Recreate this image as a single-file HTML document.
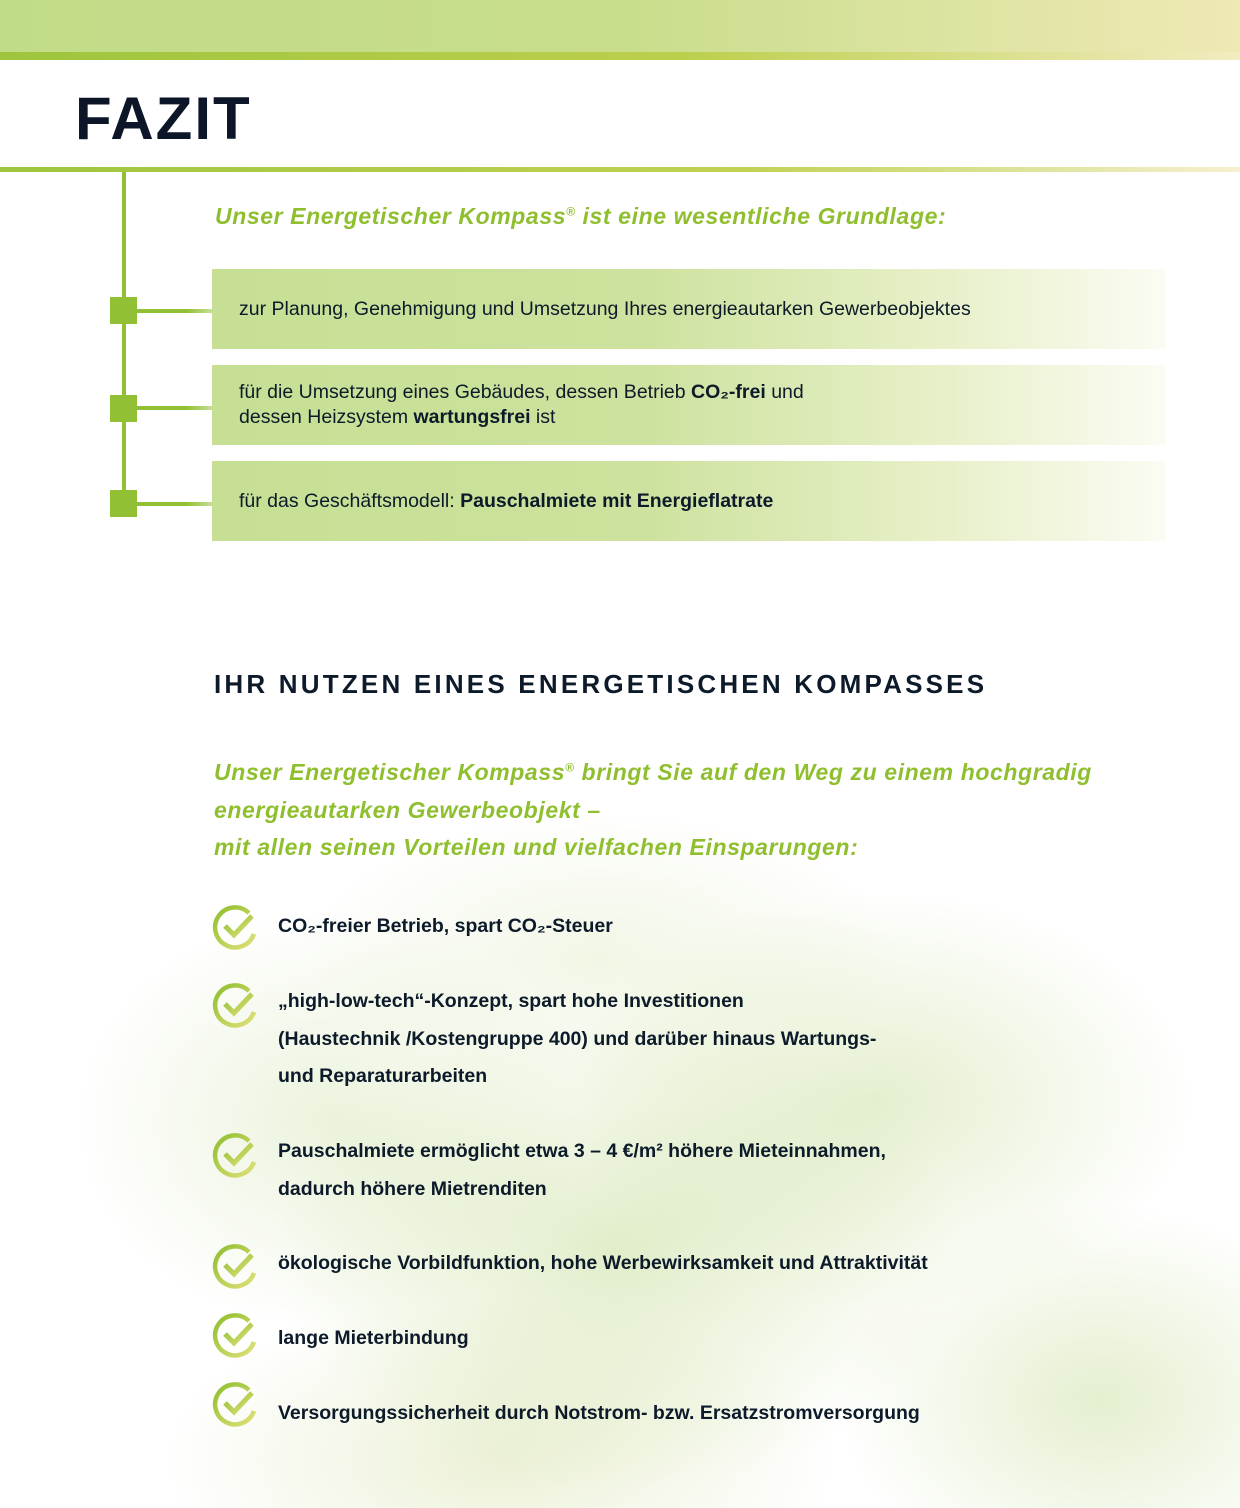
<!DOCTYPE html>
<html><head><meta charset="utf-8"><style>
*{margin:0;padding:0;box-sizing:border-box}
body{width:1240px;height:1508px;position:relative;overflow:hidden;background:#fff;font-family:"Liberation Sans",sans-serif;color:#0c1a2a}
.abs{position:absolute}
.box{position:absolute;left:212px;width:954px;height:80px;background:linear-gradient(90deg,#c6df94 0%,#cde29e 45%,#e6efc6 75%,#fbfcf3 100%);font-size:19.5px;padding-left:27px;display:flex;flex-direction:column;justify-content:center;line-height:25px}
.sq{position:absolute;left:110px;width:27px;height:27px;background:#92c035}
.con{position:absolute;left:126px;width:86px;height:4px;background:linear-gradient(90deg,#92c035 70%,#c6df94)}
.gi{color:#8fbf2f;font-style:italic;font-weight:bold;font-size:23px;letter-spacing:0.6px}
.it{position:absolute;left:278px;font-weight:bold;font-size:19.5px;line-height:37.5px}
.ck{position:absolute;left:211px;width:48px;height:48px}
</style></head><body>
<div class="abs" style="left:0;top:0;width:1240px;height:1508px;background:
radial-gradient(ellipse 460px 320px at 620px 1250px,rgba(180,210,120,.4),rgba(180,210,120,0) 75%),
radial-gradient(ellipse 420px 280px at 880px 1100px,rgba(180,210,120,.35),rgba(180,210,120,0) 75%),
radial-gradient(ellipse 340px 280px at 330px 1120px,rgba(190,215,140,.3),rgba(190,215,140,0) 75%),
radial-gradient(ellipse 350px 260px at 1100px 1400px,rgba(180,210,120,.35),rgba(180,210,120,0) 75%),
radial-gradient(ellipse 450px 220px at 500px 1460px,rgba(200,215,140,.35),rgba(200,215,140,0) 75%),
radial-gradient(ellipse 400px 200px at 600px 960px,rgba(200,220,150,.25),rgba(200,220,150,0) 75%)"></div>
<div class="abs" style="left:0;top:0;width:1240px;height:52px;background:linear-gradient(90deg,#c1dc88,#c8dd8c 50%,#efe9b4)"></div>
<div class="abs" style="left:0;top:52px;width:1240px;height:8px;background:linear-gradient(90deg,#9ec53d,#bccf4c 55%,#f2ecc0)"></div>
<div class="abs" style="left:75px;top:84px;font-size:60px;font-weight:bold;letter-spacing:2px;color:#0c1628">FAZIT</div>
<div class="abs" style="left:0;top:167px;width:1240px;height:5px;background:linear-gradient(90deg,#9ec53d,#c1d154 60%,#f5f0d0)"></div>
<div class="abs" style="left:122px;top:172px;width:4px;height:333px;background:#92c035"></div>
<div class="abs gi" style="left:215px;top:203px">Unser Energetischer Kompass<sup style="font-size:12px">®</sup> ist eine wesentliche Grundlage:</div>
<div class="box" style="top:269px">zur Planung, Genehmigung und Umsetzung Ihres energieautarken Gewerbeobjektes</div>
<div class="box" style="top:365px"><div>für die Umsetzung eines Gebäudes, dessen Betrieb <b>CO₂-frei</b> und</div><div>dessen Heizsystem <b>wartungsfrei</b> ist</div></div>
<div class="box" style="top:461px"><div>für das Geschäftsmodell: <b>Pauschalmiete mit Energieflatrate</b></div></div>
<div class="con" style="top:309px"></div><div class="sq" style="top:297px"></div>
<div class="con" style="top:406px"></div><div class="sq" style="top:395px"></div>
<div class="con" style="top:502px"></div><div class="sq" style="top:490px"></div>
<div class="abs" style="left:214px;top:669px;font-size:26px;font-weight:bold;letter-spacing:3.2px;color:#0c1a2a">IHR NUTZEN EINES ENERGETISCHEN KOMPASSES</div>
<div class="abs gi" style="left:214px;top:754px;line-height:37.5px">Unser Energetischer Kompass<sup style="font-size:12px;line-height:0">®</sup> bringt Sie auf den Weg zu einem hochgradig<br>energieautarken Gewerbeobjekt –<br>mit allen seinen Vorteilen und vielfachen Einsparungen:</div>
<svg width="0" height="0" style="position:absolute"><defs><linearGradient id="g" x1="0" y1="0" x2="1" y2="1"><stop offset="0" stop-color="#8fbf2f"/><stop offset="1" stop-color="#dfe07a"/></linearGradient></defs></svg>
<div class="it" style="top:908px">CO₂-freier Betrieb, spart CO₂-Steuer</div>
<div class="it" style="top:983px">„high-low-tech“-Konzept, spart hohe Investitionen<br>(Haustechnik /Kostengruppe 400) und darüber hinaus Wartungs-<br>und Reparaturarbeiten</div>
<div class="it" style="top:1133px">Pauschalmiete ermöglicht etwa 3 – 4 €/m² höhere Mieteinnahmen,<br>dadurch höhere Mietrenditen</div>
<div class="it" style="top:1245px">ökologische Vorbildfunktion, hohe Werbewirksamkeit und Attraktivität</div>
<div class="it" style="top:1320px">lange Mieterbindung</div>
<div class="it" style="top:1395px">Versorgungssicherheit durch Notstrom- bzw. Ersatzstromversorgung</div>
<svg class="ck" style="top:904px" viewBox="0 0 48 48"><path d="M38 9 A20 20 0 1 0 43 30" fill="none" stroke="url(#g)" stroke-width="4.5"/><path d="M14 22 L23 31 L41 12" fill="none" stroke="url(#g)" stroke-width="5"/></svg>
<svg class="ck" style="top:982px" viewBox="0 0 48 48"><path d="M38 9 A20 20 0 1 0 43 30" fill="none" stroke="url(#g)" stroke-width="4.5"/><path d="M14 22 L23 31 L41 12" fill="none" stroke="url(#g)" stroke-width="5"/></svg>
<svg class="ck" style="top:1132px" viewBox="0 0 48 48"><path d="M38 9 A20 20 0 1 0 43 30" fill="none" stroke="url(#g)" stroke-width="4.5"/><path d="M14 22 L23 31 L41 12" fill="none" stroke="url(#g)" stroke-width="5"/></svg>
<svg class="ck" style="top:1243px" viewBox="0 0 48 48"><path d="M38 9 A20 20 0 1 0 43 30" fill="none" stroke="url(#g)" stroke-width="4.5"/><path d="M14 22 L23 31 L41 12" fill="none" stroke="url(#g)" stroke-width="5"/></svg>
<svg class="ck" style="top:1312px" viewBox="0 0 48 48"><path d="M38 9 A20 20 0 1 0 43 30" fill="none" stroke="url(#g)" stroke-width="4.5"/><path d="M14 22 L23 31 L41 12" fill="none" stroke="url(#g)" stroke-width="5"/></svg>
<svg class="ck" style="top:1381px" viewBox="0 0 48 48"><path d="M38 9 A20 20 0 1 0 43 30" fill="none" stroke="url(#g)" stroke-width="4.5"/><path d="M14 22 L23 31 L41 12" fill="none" stroke="url(#g)" stroke-width="5"/></svg>
</body></html>
